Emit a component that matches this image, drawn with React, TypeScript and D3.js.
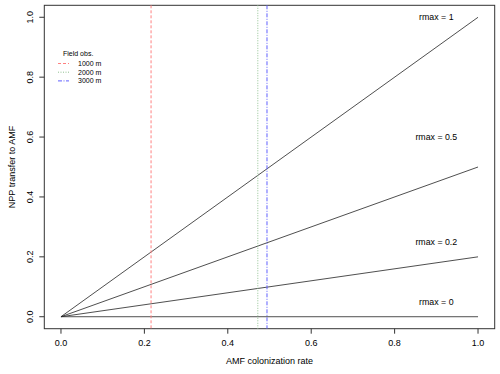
import React, { useEffect, useRef } from 'react';
import * as d3 from 'd3';

// slopes of the lines (NPP transfer = rmax * colonization)
const rmaxValues = [1, 0.5, 0.2, 0];
const rmaxLabels = ['rmax = 1', 'rmax = 0.5', 'rmax = 0.2', 'rmax = 0'];
const labelY = [1.0, 0.6, 0.25, 0.05];
const labelX = 0.9;

// field observations
const obsNames = ['1000 m', '2000 m', '3000 m'];
const obsValues = [0.216, 0.472, 0.494];
const obsColors = ['#ff8080', '#90c090', '#6060ff'];
const obsDash = ['3,2', '1,1.5', '4,1.5,1,1.5'];

const xTicks = [0, 0.2, 0.4, 0.6, 0.8, 1.0];
const yTicks = [0, 0.2, 0.4, 0.6, 0.8, 1.0];

const W = 500;
const H = 374;

export default function App() {
  const ref = useRef<SVGSVGElement>(null);

  useEffect(() => {
    const svg = d3.select(ref.current);
    svg.selectAll('*').remove();

    const x = d3.scaleLinear().domain([-0.04, 1.04]).range([44.3, 494.7]);
    const y = d3.scaleLinear().domain([-0.04, 1.04]).range([328.7, 5.3]);
    const font = 'Liberation Sans, Arial, sans-serif';

    // box
    svg.append('rect')
      .attr('x', x(-0.04)).attr('y', y(1.04))
      .attr('width', x(1.04) - x(-0.04)).attr('height', y(-0.04) - y(1.04))
      .attr('fill', 'none').attr('stroke', '#333').attr('stroke-width', 1);

    // x axis
    const gx = svg.append('g');
    xTicks.forEach(t => {
      gx.append('line')
        .attr('x1', x(t)).attr('x2', x(t))
        .attr('y1', y(-0.04)).attr('y2', y(-0.04) + 5)
        .attr('stroke', '#333');
      gx.append('text')
        .attr('x', x(t)).attr('y', 346)
        .attr('text-anchor', 'middle')
        .attr('font-family', font).attr('font-size', 9)
        .text(d3.format('.1f')(t));
    });

    // y axis
    const gy = svg.append('g');
    yTicks.forEach(t => {
      gy.append('line')
        .attr('x1', x(-0.04) - 5).attr('x2', x(-0.04))
        .attr('y1', y(t)).attr('y2', y(t))
        .attr('stroke', '#333');
      gy.append('text')
        .attr('transform', `translate(33,${y(t)}) rotate(-90)`)
        .attr('text-anchor', 'middle')
        .attr('font-family', font).attr('font-size', 9)
        .text(d3.format('.1f')(t));
    });

    svg.append('text')
      .attr('x', (x(-0.04) + x(1.04)) / 2).attr('y', 364)
      .attr('text-anchor', 'middle')
      .attr('font-family', font).attr('font-size', 9)
      .text('AMF colonization rate');
    svg.append('text')
      .attr('transform', `translate(15,${(y(-0.04) + y(1.04)) / 2}) rotate(-90)`)
      .attr('text-anchor', 'middle')
      .attr('font-family', font).attr('font-size', 9)
      .text('NPP transfer to AMF');

    // model lines
    const line = d3.line<[number, number]>().x(d => x(d[0])).y(d => y(d[1]));
    rmaxValues.forEach((r, i) => {
      svg.append('path')
        .attr('d', line([[0, 0], [1, r]]))
        .attr('fill', 'none').attr('stroke', '#222').attr('stroke-width', 0.8);
      svg.append('text')
        .attr('x', x(labelX)).attr('y', y(labelY[i]) + 3)
        .attr('text-anchor', 'middle')
        .attr('font-family', font).attr('font-size', 8.8)
        .text(rmaxLabels[i]);
    });

    // field observations
    obsValues.forEach((v, i) => {
      svg.append('line')
        .attr('x1', x(v)).attr('x2', x(v))
        .attr('y1', y(1.04)).attr('y2', y(-0.04))
        .attr('stroke', obsColors[i]).attr('stroke-width', 1)
        .attr('stroke-dasharray', obsDash[i]);
    });

    // legend
    const lg = svg.append('g');
    lg.append('text')
      .attr('x', 63).attr('y', 56)
      .attr('font-family', font).attr('font-size', 7)
      .text('Field obs.');
    obsNames.forEach((n, i) => {
      const ly = 63.5 + i * 8.7;
      lg.append('line')
        .attr('x1', 58).attr('x2', 69)
        .attr('y1', ly).attr('y2', ly)
        .attr('stroke', obsColors[i]).attr('stroke-width', 1)
        .attr('stroke-dasharray', obsDash[i]);
      lg.append('text')
        .attr('x', 78).attr('y', ly + 2.5)
        .attr('font-family', font).attr('font-size', 7)
        .attr('fill', '#000')
        .text(n);
    });
  }, []);

  return (
    <svg ref={ref} width={W} height={H}
      style={{ position: 'absolute', left: 0, top: 0, background: '#fff' }} />
  );
}
